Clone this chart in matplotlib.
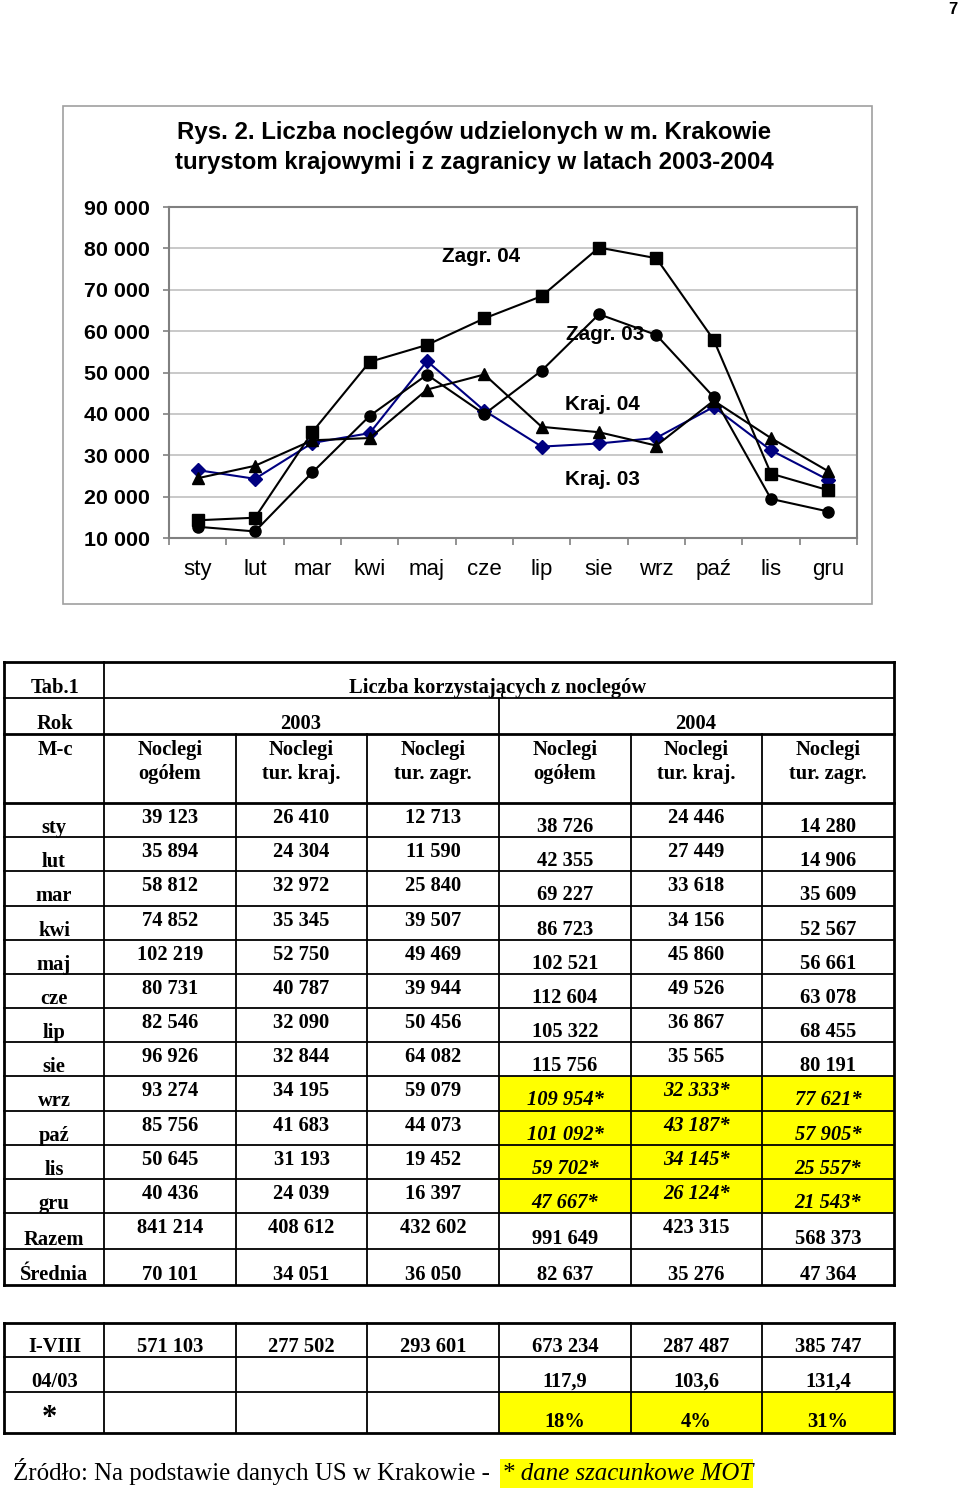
import matplotlib
matplotlib.use("Agg")
import matplotlib.pyplot as plt
from matplotlib.lines import Line2D
from matplotlib.patches import Rectangle
from matplotlib.ticker import FuncFormatter, FixedLocator

W, H = 960, 1491

# dane
miesiace = ["sty", "lut", "mar", "kwi", "maj", "cze", "lip", "sie", "wrz", "paź", "lis", "gru"]
ogolem_03 = [39123, 35894, 58812, 74852, 102219, 80731, 82546, 96926, 93274, 85756, 50645, 40436]
kraj_03 = [26410, 24304, 32972, 35345, 52750, 40787, 32090, 32844, 34195, 41683, 31193, 24039]
zagr_03 = [12713, 11590, 25840, 39507, 49469, 39944, 50456, 64082, 59079, 44073, 19452, 16397]
ogolem_04 = [38726, 42355, 69227, 86723, 102521, 112604, 105322, 115756, 109954, 101092, 59702, 47667]
kraj_04 = [24446, 27449, 33618, 34156, 45860, 49526, 36867, 35565, 32333, 43187, 34145, 26124]
zagr_04 = [14280, 14906, 35609, 52567, 56661, 63078, 68455, 80191, 77621, 57905, 25557, 21543]
szacunek_od = 8  # od wrz dane szacunkowe MOT

razem = [841214, 408612, 432602, 991649, 423315, 568373]
srednia = [70101, 34051, 36050, 82637, 35276, 47364]
i_viii = [571103, 277502, 293601, 673234, 287487, 385747]
dynamika = ["117,9", "103,6", "131,4"]
procent = ["18%", "4%", "31%"]


def fx(x):
    return x / W


def fy(y):
    return 1 - y / H


def liczba(v):
    return "{:,}".format(v).replace(",", " ")


fig = plt.figure(figsize=(9.6, 14.91), dpi=100)

# --- wykres ---
fig.patches.append(Rectangle((fx(63), fy(604)), fx(872 - 63), (604 - 106) / H,
                             transform=fig.transFigure, fill=False,
                             edgecolor="#a0a0a0", lw=1.2))

sans = "Liberation Sans"
fig.text(fx(474), fy(132), "Rys. 2. Liczba noclegów udzielonych w m. Krakowie",
         ha="center", va="center", fontsize=17.3, fontweight="bold", family=sans)
fig.text(fx(474), fy(162), "turystom krajowymi i z zagranicy w latach 2003-2004",
         ha="center", va="center", fontsize=17.3, fontweight="bold", family=sans)

ax = fig.add_axes([fx(169), fy(538), fx(857 - 169), (538 - 207) / H])
x = list(range(12))
ax.plot(x, kraj_03, color="#000080", lw=1.5, marker="D", ms=7, zorder=3)
ax.plot(x, kraj_04, color="black", lw=1.5, marker="^", ms=8, zorder=3)
ax.plot(x, zagr_03, color="black", lw=1.5, marker="o", ms=8, zorder=3)
ax.plot(x, zagr_04, color="black", lw=1.5, marker="s", ms=8, zorder=3)

ax.set_xlim(-0.5, 11.5)
ax.set_ylim(10000, 90000)
ax.yaxis.set_major_locator(FixedLocator(range(10000, 90001, 10000)))
ax.yaxis.set_major_formatter(FuncFormatter(lambda v, p: liczba(int(v))))
ax.grid(axis="y", color="#c0c0c0", lw=1.2)
ax.set_axisbelow(True)
ax.set_xticks(x)
ax.set_xticklabels(miesiace)
ax.set_xticks([i - 0.5 for i in range(13)], minor=True)
ax.tick_params(axis="x", which="major", length=0, pad=15, labelsize=16)
ax.tick_params(axis="x", which="minor", length=5, width=1.2, color="#808080")
ax.tick_params(axis="y", length=4, width=1.2, color="#808080", pad=10, labelsize=15.4)
for lab in ax.get_xticklabels():
    lab.set_family(sans)
for lab in ax.get_yticklabels():
    lab.set_family(sans)
    lab.set_fontweight("bold")
for s in ax.spines.values():
    s.set_color("#808080")
    s.set_linewidth(1.5)

for txt, px, py in [("Zagr. 04", 481, 256), ("Zagr. 03", 605, 335),
                    ("Kraj. 04", 602, 405), ("Kraj. 03", 602, 479)]:
    fig.text(fx(px), fy(py), txt, ha="center", va="center", fontsize=14.9,
             fontweight="bold", family=sans)

fig.text(fx(953), fy(9), "7", ha="center", va="center", fontsize=12,
         fontweight="bold", family=sans)

# --- tabela ---
serif = "Liberation Serif"
cols = [4, 104, 236, 367, 499, 631, 762, 894]
cx = [(cols[i] + cols[i + 1]) / 2 for i in range(7)]
row_h = 34.17
rows = [803 + row_h * i for i in range(13)]  # sty..gru, poczatek Razem
rows += [1249, 1285]


def hline(y, x0=4, x1=894, lw=1.3):
    fig.lines.append(Line2D([fx(x0), fx(x1)], [fy(y), fy(y)], transform=fig.transFigure,
                            color="black", lw=lw))


def vline(x, y0, y1, lw=1.3):
    fig.lines.append(Line2D([fx(x), fx(x)], [fy(y0), fy(y1)], transform=fig.transFigure,
                            color="black", lw=lw))


def tekst(x, y, s, style="normal", size=14.8, ha="center", weight="bold"):
    fig.text(fx(x), fy(y), s, ha=ha, va="baseline", fontsize=size, fontweight=weight,
             fontstyle=style, family=serif)


# zolte tlo
y0 = rows[szacunek_od]
fig.patches.append(Rectangle((fx(499), fy(rows[12])), fx(894 - 499), (rows[12] - y0) / H,
                             transform=fig.transFigure, color="#ffff00", lw=0, zorder=0))
fig.patches.append(Rectangle((fx(499), fy(1433)), fx(894 - 499), (1433 - 1392) / H,
                             transform=fig.transFigure, color="#ffff00", lw=0, zorder=0))

hline(662, lw=2)
hline(698)
hline(734, lw=2)
hline(803, lw=2)
for r in rows[1:-1]:
    hline(r)
hline(1285, lw=2)
vline(4, 662, 1285, lw=2)
vline(894, 662, 1285, lw=2)
vline(104, 662, 1285)
vline(499, 698, 1285)
for c in [236, 367, 631, 762]:
    vline(c, 734, 1285)

tekst(55, 693, "Tab.1")
tekst(498, 693, "Liczba korzystających z noclegów")
tekst(55, 729, "Rok")
tekst(301, 729, "2003")
tekst(696, 729, "2004")
tekst(55, 755, "M-c")
naglowki = ["ogółem", "tur. kraj.", "tur. zagr.", "ogółem", "tur. kraj.", "tur. zagr."]
for i, n in enumerate(naglowki):
    tekst(cx[i + 1], 755, "Noclegi")
    tekst(cx[i + 1], 779, n)

for i, m in enumerate(miesiace):
    top = rows[i]
    tekst(54, top + 30, m)
    tekst(cx[1], top + 20, liczba(ogolem_03[i]))
    tekst(cx[2], top + 20, liczba(kraj_03[i]))
    tekst(cx[3], top + 20, liczba(zagr_03[i]))
    est = i >= szacunek_od
    st = "italic" if est else "normal"
    gw = "*" if est else ""
    tekst(cx[4], top + 29, liczba(ogolem_04[i]) + gw, style=st)
    tekst(cx[5], top + 20, liczba(kraj_04[i]) + gw, style=st)
    tekst(cx[6], top + 29, liczba(zagr_04[i]) + gw, style=st)

tekst(54, 1245, "Razem")
tekst(54, 1280, "Średnia")
for j in range(6):
    tekst(cx[j + 1], 1244 if j in (3, 5) else 1233, liczba(razem[j]))
    tekst(cx[j + 1], 1280, liczba(srednia[j]))

# druga tabela
for y in [1323, 1433]:
    hline(y, lw=2)
for y in [1357, 1392]:
    hline(y)
for c in cols:
    vline(c, 1323, 1433, lw=2 if c in (4, 894) else 1.3)

tekst(55, 1352, "I-VIII")
tekst(55, 1387, "04/03")
tekst(49, 1426, "*", size=22)
for j in range(6):
    tekst(cx[j + 1], 1352, liczba(i_viii[j]))
for j in range(3):
    tekst(cx[j + 4], 1387, dynamika[j])
    tekst(cx[j + 4], 1427, procent[j])

# zrodlo
fig.patches.append(Rectangle((fx(500), fy(1488)), fx(753 - 500), (1488 - 1459) / H,
                             transform=fig.transFigure, color="#ffff00", lw=0, zorder=0))
tekst(13, 1480, "Źródło: Na podstawie danych US w Krakowie - ", size=17.9, ha="left",
      weight="normal")
tekst(502, 1480, "* dane szacunkowe MOT", size=17.9, ha="left", weight="normal",
      style="italic")

fig.savefig("out.png", dpi=100)
